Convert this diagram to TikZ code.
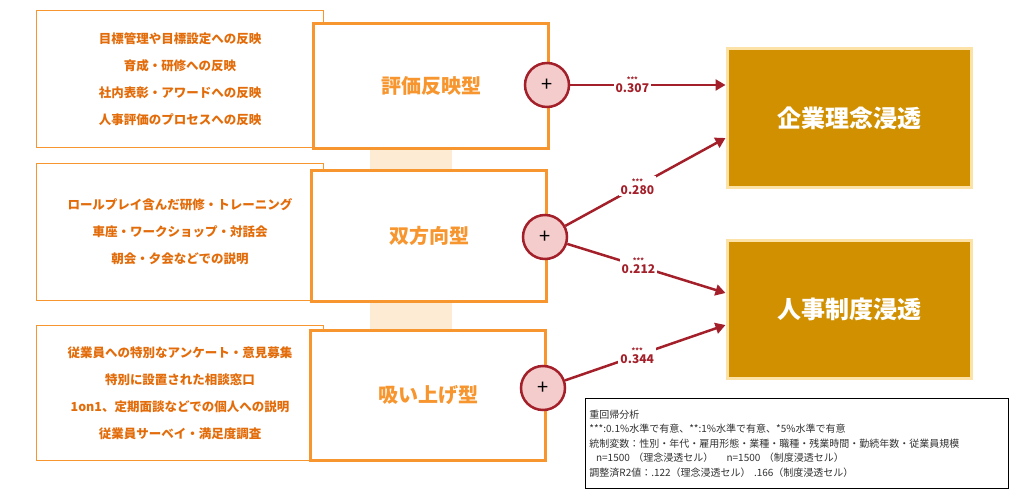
\documentclass[tikz,border=0pt]{standalone}
\usepackage{fontspec}
\setmainfont{Noto Sans CJK JP}
\usetikzlibrary{arrows.meta, positioning}
\definecolor{boxorange}{HTML}{F7962F}
\definecolor{textorange}{HTML}{E36C0A}
\definecolor{pathred}{HTML}{A3202A}
\definecolor{plusfill}{HTML}{F4CCCC}
\definecolor{goldfill}{HTML}{D09000}
\definecolor{goldedge}{HTML}{FCE2A6}
\definecolor{bandfill}{HTML}{FDEBD3}
\tikzset{
	listbox/.style={draw=boxorange, line width=0.8pt, fill=white, minimum width=286pt, minimum height=137pt, text width=280pt, align=center, font=\bfseries\fontsize{12.5}{27}\selectfont, text=textorange},
	typebox/.style={draw=boxorange, line width=3pt, fill=white, minimum width=235pt, minimum height=130pt, font=\bfseries\fontsize{20}{22}\selectfont, text=boxorange},
	plus/.style={circle, draw=pathred, line width=2.5pt, fill=plusfill, minimum size=44pt, inner sep=0pt, font=\fontsize{20}{20}\selectfont, text=black},
	target/.style={draw=goldedge, line width=3pt, fill=goldfill, minimum width=244pt, minimum height=138pt, font=\bfseries\fontsize{24}{26}\selectfont, text=white},
	path/.style={draw=pathred, line width=2.5pt, -{Triangle[length=10pt,width=11pt]}},
	coef/.style={fill=white, inner sep=2pt, align=center, text=pathred, font=\bfseries\fontsize{12}{10}\selectfont},
}
\newcommand{\stars}{{\fontsize{7}{7}\selectfont ***}\\}
\begin{document}
\begin{tikzpicture}[x=1pt, y=-1pt]
	\useasboundingbox (0,0) rectangle (1015,500);
	% band between the type boxes
	\fill[bandfill] (370,148) rectangle (452,330);

	% list boxes
	\node[listbox] (list1) at (180,79) {目標管理や目標設定への反映\\育成・研修への反映\\社内表彰・アワードへの反映\\人事評価のプロセスへの反映};
	\node[listbox] (list2) at (180,232) {ロールプレイ含んだ研修・トレーニング\\車座・ワークショップ・対話会\\朝会・夕会などでの説明};
	\node[listbox, minimum height=135pt] (list3) at (180,393) {従業員への特別なアンケート・意見募集\\特別に設置された相談窓口\\1on1、定期面談などでの個人への説明\\従業員サーベイ・満足度調査};

	% type boxes
	\node[typebox, minimum height=125pt] (typeA) at (431,86) {評価反映型};
	\node[typebox] (typeB) at (429,236) {双方向型};
	\node[typebox] (typeC) at (428,395) {吸い上げ型};

	% plus circles
	\node[plus] (plusA) at (547,85) {+};
	\node[plus] (plusB) at (545,237) {+};
	\node[plus] (plusC) at (543,388) {+};

	% targets
	\node[target] (philo) at (849,118) {企業理念浸透};
	\node[target] (hr) at (849,309) {人事制度浸透};

	% paths
	\draw[path] (plusA) -- (philo.west |- plusA) node[coef, pos=0.4] {\stars 0.307};
	\draw[path] (plusB) -- ([yshift=-20pt]philo.west) node[coef, pos=0.45] {\stars 0.280};
	\draw[path] (plusB) -- ([yshift=16pt]hr.west) node[coef, pos=0.45] {\stars 0.212};
	\draw[path] (plusC) -- ([yshift=-16pt]hr.west) node[coef, pos=0.45] {\stars 0.344};

	% note
	\node[draw=black, line width=0.8pt, fill=white, minimum width=423pt, minimum height=90pt, text width=415pt, align=left, anchor=north west, font=\fontsize{10}{14.5}\selectfont, text=black!80] (note) at (585,398) {重回帰分析\\{}***:0.1\%水準で有意、**:1\%水準で有意、*5\%水準で有意\\統制変数：性別・年代・雇用形態・業種・職種・残業時間・勤続年数・従業員規模\\\ \ n=1500 （理念浸透セル）\ \ \ \ n=1500 （制度浸透セル）\\調整済R2値：.122（理念浸透セル） .166（制度浸透セル）};
\end{tikzpicture}
\end{document}
